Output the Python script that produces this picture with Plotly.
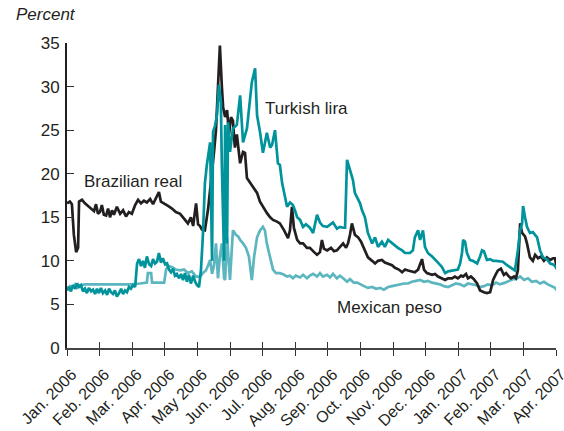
import plotly.graph_objects as go

# x positions are in months since Jan. 2006 (0 = Jan. 2006, 15 = Apr. 2007)
month_labels = ["Jan. 2006", "Feb. 2006", "Mar. 2006", "Apr. 2006", "May 2006", "Jun. 2006",
                "Jul. 2006", "Aug. 2006", "Sep. 2006", "Oct. 2006", "Nov. 2006", "Dec. 2006",
                "Jan. 2007", "Feb. 2007", "Mar. 2007", "Apr. 2007"]
y_ticks = [0, 5, 10, 15, 20, 25, 30, 35]

brl_t = [0.00, 0.09, 0.15, 0.21, 0.28, 0.34, 0.37, 0.46, 0.55, 0.64, 0.74, 0.83, 0.89, 0.95, 1.01,
         1.07, 1.13, 1.20, 1.26, 1.32, 1.38, 1.44, 1.53, 1.63, 1.72, 1.81, 1.90, 1.99, 2.09, 2.18,
         2.27, 2.36, 2.45, 2.55, 2.64, 2.73, 2.82, 2.88, 2.98, 3.10, 3.22, 3.34, 3.47, 3.59, 3.71,
         3.80, 3.87, 3.93, 3.96, 4.02, 4.08, 4.14, 4.23, 4.33, 4.42, 4.51, 4.57, 4.63, 4.69, 4.75,
         4.79, 4.85, 4.91, 4.97, 5.03, 5.09, 5.15, 5.21, 5.31, 5.40, 5.46, 5.52, 5.61, 5.71, 5.83,
         5.92, 6.01, 6.13, 6.23, 6.32, 6.44, 6.53, 6.66, 6.78, 6.84, 6.90, 6.96, 7.06, 7.15, 7.24,
         7.36, 7.45, 7.58, 7.67, 7.76, 7.82, 7.88, 7.98, 8.10, 8.19, 8.28, 8.37, 8.47, 8.56, 8.62,
         8.68, 8.74, 8.83, 8.93, 9.02, 9.11, 9.23, 9.36, 9.45, 9.54, 9.66, 9.75, 9.85, 9.97, 10.06,
         10.18, 10.28, 10.37, 10.46, 10.58, 10.67, 10.77, 10.83, 10.89, 10.95, 11.04, 11.20, 11.29,
         11.38, 11.50, 11.60, 11.69, 11.81, 11.90, 11.99, 12.09, 12.15, 12.24, 12.30, 12.39, 12.48,
         12.58, 12.67, 12.79, 12.88, 12.98, 13.07, 13.16, 13.22, 13.31, 13.40, 13.47, 13.53, 13.62,
         13.71, 13.77, 13.83, 13.90, 13.96, 14.05, 14.11, 14.20, 14.29, 14.36, 14.45, 14.54, 14.63,
         14.72, 14.82, 14.91, 14.97, 15.03]
brl_v = [16.6, 16.8, 16.5, 13.0, 11.0, 11.5, 16.8, 17.0, 16.6, 16.3, 16.0, 15.7, 16.5, 15.4, 15.6,
         16.4, 15.3, 15.2, 16.0, 15.0, 15.8, 15.3, 16.2, 15.4, 15.8, 15.1, 15.6, 15.4, 16.4, 17.0,
         16.6, 16.9, 16.7, 17.1, 16.5, 17.2, 17.9, 16.8, 16.6, 16.3, 16.0, 15.6, 15.4, 14.8, 14.3,
         15.0, 14.0, 15.8, 16.6, 14.2, 14.0, 13.6, 13.5, 16.0, 19.0, 22.5, 25.0, 30.0, 34.7, 30.0,
         27.6, 26.5, 27.3, 24.5, 26.5, 26.1, 23.0, 24.5, 21.2, 22.5, 22.4, 19.5, 19.0, 18.5, 17.8,
         16.8, 16.2, 15.5, 15.0, 14.7, 14.5, 14.3, 13.5, 12.6, 13.5, 16.2, 13.8, 12.4, 12.0, 12.0,
         11.5, 11.5, 11.0, 10.7, 11.0, 12.4, 11.4, 11.2, 11.5, 11.1, 11.2, 11.6, 12.0, 11.5, 12.0,
         13.0, 14.3, 13.0, 12.7, 12.2, 11.5, 10.4, 10.0, 9.7, 10.0, 10.1, 9.8, 9.7, 9.5, 9.2,
         9.0, 8.7, 9.0, 8.9, 8.8, 8.7, 9.0, 9.6, 10.2, 9.0, 8.6, 8.4, 8.5,
         8.2, 8.0, 7.8, 8.0, 8.0, 8.2, 8.0, 8.3, 8.2, 8.5, 8.0, 8.2, 7.9,
         7.4, 6.6, 6.4, 6.3, 6.4, 7.8, 8.5, 8.9, 9.1, 8.4, 8.6, 8.3, 8.0,
         8.2, 8.0, 8.9, 14.3, 13.2, 12.8, 12.0, 10.4, 10.0, 10.7, 10.3, 10.5, 10.0,
         10.4, 10.1, 10.3, 10.3, 9.0]

try_t = [0.00, 0.06, 0.12, 0.18, 0.25, 0.31, 0.37, 0.43, 0.49, 0.55, 0.61, 0.67, 0.74, 0.80, 0.86,
         0.92, 0.98, 1.04, 1.10, 1.17, 1.23, 1.29, 1.35, 1.41, 1.47, 1.53, 1.60, 1.66, 1.72, 1.78,
         1.84, 1.90, 1.96, 2.02, 2.09, 2.15, 2.21, 2.27, 2.33, 2.39, 2.45, 2.52, 2.58, 2.64, 2.70,
         2.76, 2.82, 2.88, 2.94, 3.01, 3.07, 3.13, 3.19, 3.25, 3.31, 3.37, 3.44, 3.50, 3.56, 3.62,
         3.68, 3.74, 3.80, 3.87, 3.93, 3.99, 4.05, 4.11, 4.17, 4.23, 4.29, 4.36, 4.39, 4.45, 4.48,
         4.54, 4.60, 4.66, 4.72, 4.75, 4.82, 4.85, 4.91, 4.94, 5.00, 5.09, 5.21, 5.31, 5.40, 5.52,
         5.61, 5.67, 5.77, 5.83, 5.92, 6.01, 6.07, 6.13, 6.23, 6.29, 6.38, 6.47, 6.53, 6.60, 6.69,
         6.75, 6.84, 6.93, 6.99, 7.06, 7.15, 7.24, 7.33, 7.45, 7.55, 7.67, 7.76, 7.85, 7.98, 8.07,
         8.16, 8.28, 8.37, 8.47, 8.53, 8.59, 8.68, 8.77, 8.83, 8.90, 8.99, 9.05, 9.14, 9.23, 9.36,
         9.45, 9.54, 9.66, 9.75, 9.85, 9.97, 10.06, 10.15, 10.28, 10.37, 10.52, 10.61, 10.67, 10.77,
         10.83, 10.92, 10.98, 11.07, 11.20, 11.29, 11.38, 11.50, 11.60, 11.69, 11.81, 11.90, 11.99,
         12.06, 12.12, 12.15, 12.21, 12.27, 12.36, 12.45, 12.58, 12.67, 12.73, 12.79, 12.88, 12.98,
         13.07, 13.16, 13.28, 13.37, 13.50, 13.59, 13.68, 13.74, 13.83, 13.90, 13.96, 13.99, 14.05,
         14.11, 14.20, 14.29, 14.42, 14.51, 14.60, 14.72, 14.82, 14.91, 14.97, 15.03]
try_v = [6.6, 7.0, 6.5, 7.2, 6.8, 7.4, 7.0, 7.2, 6.5, 6.8, 6.3, 6.9, 6.5, 6.7, 6.2,
         6.8, 6.3, 6.9, 6.3, 6.6, 6.1, 6.8, 6.4, 6.2, 6.6, 5.9, 6.3, 6.8, 6.2, 6.6,
         6.4, 7.0, 6.8, 7.2, 7.0, 9.7, 10.2, 9.4, 10.0, 9.2, 10.5, 9.6, 9.4, 10.2, 9.7,
         9.9, 10.9, 9.8, 10.3, 9.6, 9.7, 9.0, 8.7, 9.1, 8.3, 8.5, 8.0, 8.5, 7.8, 8.6,
         7.6, 8.4, 7.4, 8.3, 7.6, 7.2, 7.0, 9.0, 13.0, 18.9, 21.0, 22.7, 23.6, 10.0, 24.8,
         25.5, 26.7, 30.2, 28.2, 21.0, 10.0, 25.6, 12.0, 25.9, 22.5, 25.2, 25.6, 29.0, 23.6, 25.2,
         28.2, 30.5, 32.1, 26.7, 24.8, 22.4, 23.5, 24.7, 23.0, 23.3, 25.0, 21.2, 21.0, 18.9, 17.3,
         16.2, 16.7, 16.4, 15.8, 15.0, 14.7, 13.9, 14.2, 13.8, 13.2, 15.3, 14.4, 14.0, 13.9, 14.2,
         14.4, 13.7, 13.9, 13.8, 13.8, 21.6, 20.3, 19.3, 17.8, 17.3, 16.6, 15.8, 15.0, 13.2, 12.0,
         12.7, 11.6, 12.2, 11.6, 12.4, 12.0, 11.7, 11.5, 11.2, 10.9, 10.9, 11.2, 12.7, 13.5,
         12.4, 13.5, 11.6, 10.9, 10.5, 10.1, 9.8, 9.3, 8.6, 8.8, 8.9, 8.9, 9.0,
         9.7, 11.0, 12.4, 12.2, 10.9, 10.1, 10.0, 9.7, 10.5, 11.2, 11.1, 10.1, 10.2,
         10.0, 10.0, 9.9, 9.9, 9.5, 9.3, 9.0, 8.9, 11.2, 13.5, 14.3, 16.3, 15.0,
         13.9, 13.2, 13.3, 12.7, 11.2, 10.4, 10.2, 9.7, 9.6, 9.4, 9.1]

mxn_t = [0.00, 0.09, 0.18, 0.25, 0.31, 0.40, 0.55, 0.71, 1.01, 1.32, 1.63, 1.93, 2.24, 2.45, 2.48,
         2.58, 2.61, 2.85, 2.98, 3.04, 3.10, 3.22, 3.34, 3.47, 3.59, 3.71, 3.83, 3.96, 4.08, 4.17,
         4.26, 4.33, 4.39, 4.45, 4.51, 4.57, 4.63, 4.69, 4.75, 4.82, 4.85, 4.91, 4.97, 5.00, 5.09,
         5.18, 5.25, 5.31, 5.40, 5.49, 5.58, 5.64, 5.67, 5.74, 5.83, 5.92, 6.01, 6.07, 6.13, 6.23,
         6.32, 6.41, 6.53, 6.66, 6.75, 6.84, 6.93, 7.02, 7.15, 7.24, 7.36, 7.45, 7.55, 7.67, 7.76,
         7.85, 7.98, 8.07, 8.16, 8.28, 8.37, 8.47, 8.59, 8.68, 8.80, 8.90, 8.99, 9.11, 9.23, 9.36,
         9.48, 9.60, 9.72, 9.85, 9.97, 10.09, 10.21, 10.34, 10.46, 10.58, 10.71, 10.83, 10.95, 11.07,
         11.20, 11.32, 11.44, 11.56, 11.69, 11.81, 11.93, 12.06, 12.18, 12.30, 12.42, 12.55, 12.67,
         12.79, 12.91, 13.04, 13.16, 13.28, 13.44, 13.59, 13.68, 13.77, 13.90, 14.02, 14.14, 14.26,
         14.39, 14.51, 14.63, 14.75, 14.88, 14.97, 15.03]
mxn_v = [6.8, 7.1, 7.0, 7.3, 6.9, 7.2, 7.3, 7.3, 7.3, 7.3, 7.3, 7.3, 7.4, 7.5, 8.6,
         8.6, 7.5, 7.5, 7.5, 9.0, 9.4, 9.3, 9.0, 8.9, 9.0, 8.6, 8.8, 8.2, 8.2, 8.6,
         8.9, 9.5, 10.1, 8.5, 9.5, 12.0, 8.0, 10.5, 12.0, 8.0, 7.8, 12.7, 9.0, 7.8, 13.5,
         13.0, 12.8, 12.4, 12.0, 11.5, 10.5, 8.5, 7.8, 10.5, 12.7, 13.5, 13.9, 13.5, 12.0, 10.4,
         9.0, 8.6, 8.6, 8.4, 8.2, 8.3, 8.0, 8.3, 8.1, 8.4, 8.0, 8.3, 8.5, 8.2, 8.6,
         8.2, 8.4, 8.1, 8.5, 8.0, 8.3, 8.0, 7.6, 7.9, 7.5, 7.5, 7.3, 7.1, 6.9, 7.0,
         6.8, 6.9, 6.7, 7.0, 7.1, 7.2, 7.3, 7.4, 7.4, 7.6, 7.7, 7.8, 7.6, 7.7,
         7.5, 7.4, 7.3, 7.1, 7.0, 7.2, 7.4, 7.3, 7.1, 7.4, 7.3, 7.2, 7.0,
         7.1, 7.3, 7.2, 7.5, 7.3, 7.5, 7.8, 7.9, 7.9, 8.2, 7.8, 8.0, 7.6,
         7.7, 7.4, 7.6, 7.3, 7.1, 6.9, 6.6]

labels = {"Brazilian real": (2.02, 19.15), "Turkish lira": (7.36, 27.5), "Mexican peso": (9.9, 4.7)}

C_BLACK = "#231f20"
C_TEAL = "#00939c"
C_LIGHT = "#5cb6c0"
FONT = "Liberation Sans, Arial, Helvetica, sans-serif"

fig = go.Figure()
fig.add_trace(go.Scatter(x=mxn_t, y=mxn_v, mode="lines", line=dict(color=C_LIGHT, width=2.7),
                         name="Mexican peso", showlegend=False, cliponaxis=False))
fig.add_trace(go.Scatter(x=brl_t, y=brl_v, mode="lines", line=dict(color=C_BLACK, width=2.7),
                         name="Brazilian real", showlegend=False, cliponaxis=False))
fig.add_trace(go.Scatter(x=try_t, y=try_v, mode="lines", line=dict(color=C_TEAL, width=2.7),
                         name="Turkish lira", showlegend=False, cliponaxis=False))
# invisible trace on the overlaid axis that draws the upper half of the crossing x ticks
fig.add_trace(go.Scatter(x=[0, 15], y=[0, 0], xaxis="x2", yaxis="y", mode="lines",
                         line=dict(width=0, color="rgba(0,0,0,0)"), showlegend=False,
                         hoverinfo="skip"))

for text, (lx, ly) in labels.items():
    fig.add_annotation(x=lx, y=ly, text=text, showarrow=False,
                       font=dict(family=FONT, size=17, color=C_BLACK))

fig.add_annotation(xref="paper", yref="paper", x=-0.108, y=1.092, xanchor="left", yanchor="middle",
                   text="<i>Percent</i>", showarrow=False,
                   font=dict(family=FONT, size=17, color=C_BLACK))

xr = [0, 15.0]
fig.update_layout(
    width=564, height=431,
    margin=dict(l=67, r=8, t=43, b=83),
    paper_bgcolor="white", plot_bgcolor="white",
    font=dict(family=FONT, size=17, color=C_BLACK),
    xaxis=dict(range=xr, tickmode="array", tickvals=list(range(len(month_labels))),
               ticktext=month_labels, tickangle=-45, ticks="outside", ticklen=6, tickwidth=1.2,
               tickcolor="#333", showline=True, linecolor="#444", linewidth=1.5,
               showgrid=False, zeroline=False, automargin=False, ticklabeloverflow="allow",
               ticklabelstandoff=3, ticklabelshift=5, tickfont=dict(size=16, color=C_BLACK)),
    xaxis2=dict(range=xr, overlaying="x", anchor="y", tickmode="array",
                tickvals=list(range(len(month_labels))), ticks="inside", ticklen=6, tickwidth=1.2,
                tickcolor="#333", showticklabels=False, showline=False, showgrid=False,
                zeroline=False, side="bottom", automargin=False),
    yaxis=dict(range=[0, 35], tickvals=y_ticks, ticks="inside", ticklen=7, tickwidth=1.2,
               tickcolor="#333", showline=True, linecolor=C_BLACK, linewidth=1.8,
               showgrid=False, zeroline=False, ticklabelstandoff=2, automargin=False,
               tickfont=dict(size=17, color=C_BLACK)),
)

fig.write_html("out.html", config={"displayModeBar": False},
               post_script="document.body.style.margin='0';document.body.style.padding='0';")
